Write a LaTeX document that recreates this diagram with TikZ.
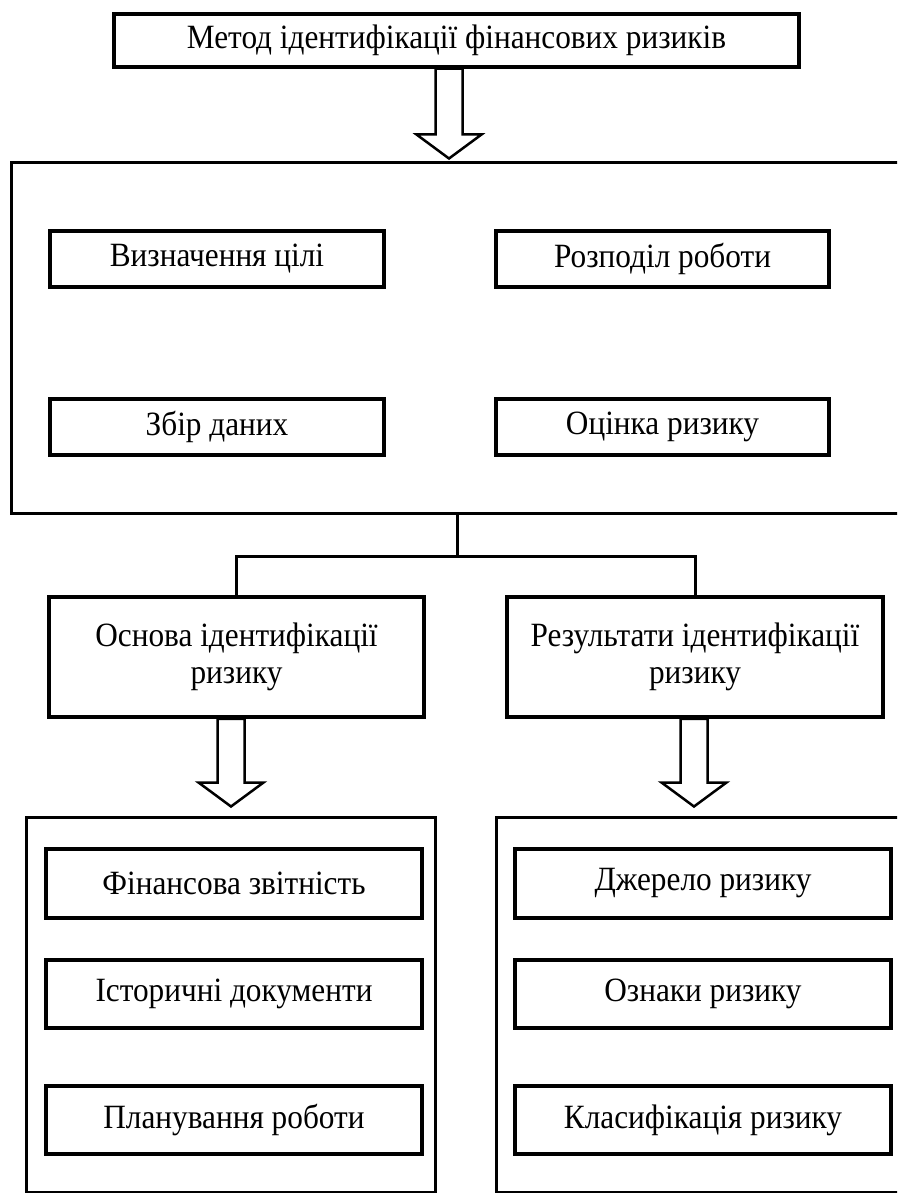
\documentclass[tikz,border=0pt]{standalone}
\usepackage{fontspec}
\setmainfont[FakeStretch=0.92]{Liberation Serif}
\usetikzlibrary{calc}
\newcommand\fs{\fontsize{34}{37}\selectfont}
\newcommand\blkarrow[2]{%
  \draw[blk] let \p1=(#1), \p2=(#2) in
    (\x1-13.5pt,\y1) -- (\x1-13.5pt,\y2+24pt) -- (\x1-32.5pt,\y2+24pt) -- (\x1,\y2)
    -- (\x1+32.5pt,\y2+24pt) -- (\x1+13.5pt,\y2+24pt) -- (\x1+13.5pt,\y1) -- cycle;}
\begin{document}
\begin{tikzpicture}[x=1pt,y=-1pt,
  box/.style={draw, line width=3.5pt, rectangle, inner sep=0pt, align=center, font=\fs},
  frame/.style={draw, line width=3pt, rectangle, inner sep=0pt},
  blk/.style={draw, line width=2.5pt, fill=white, line join=miter},
  conn/.style={draw, line width=3pt}]
\useasboundingbox (0,0) rectangle (897,1193);
\fill[white] (0,0) rectangle (897,1193);
\clip (0,0) rectangle (897,1193);

% top
\node[box, minimum width=685pt, minimum height=53pt] (top) at (456.5,40.5) {Метод ідентифікації фінансових ризиків};

% big frame
\node[frame, minimum width=909pt, minimum height=350pt] (big) at (465.5,338) {};
\node[box, minimum width=334pt, minimum height=56pt] (v1) at (217,259) {Визначення цілі};
\node[box, minimum width=333pt, minimum height=56pt] (v2) at (662.5,259) {Розподіл роботи};
\node[box, minimum width=334pt, minimum height=56pt] (v3) at (217,427) {Збір даних};
\node[box, minimum width=333pt, minimum height=56pt] (v4) at (662.5,427) {Оцінка ризику};

% middle
\node[box, minimum width=375pt, minimum height=120pt] (osn) at (236.5,657) {Основа ідентифікації\\ризику};
\node[box, minimum width=376pt, minimum height=120pt] (res) at (695,657) {Результати ідентифікації\\ризику};

% bottom frames
\node[frame, minimum width=409pt, minimum height=375pt] (cl) at (230.5,1004.5) {};
\node[frame, minimum width=424pt, minimum height=375pt] (cr) at (708,1004.5) {};
\node[box, minimum width=376pt, minimum height=69pt] (l1) at (234,883.5) {Фінансова звітність};
\node[box, minimum width=376pt, minimum height=68pt] (l2) at (234,994) {Історичні документи};
\node[box, minimum width=376pt, minimum height=68pt] (l3) at (234,1120) {Планування роботи};
\node[box, minimum width=376pt, minimum height=69pt] (r1) at (703,883.5) {Джерело ризику};
\node[box, minimum width=376pt, minimum height=68pt] (r2) at (703,994) {Ознаки ризику};
\node[box, minimum width=376pt, minimum height=68pt] (r3) at (703,1120) {Класифікація ризику};

% arrows
\coordinate (a1) at ($(top.south)+(-7.5,0)$);
\coordinate (t1) at ($(a1 |- big.north)+(0,-3)$);
\blkarrow{a1}{t1}
\coordinate (a2) at ($(osn.south)+(-5.5,0)$);
\coordinate (t2) at ($(a2 |- cl.north)+(0,-9)$);
\blkarrow{a2}{t2}
\coordinate (a3) at ($(res.south)+(-1,0)$);
\coordinate (t3) at ($(a3 |- cr.north)+(0,-9)$);
\blkarrow{a3}{t3}

% connector
\coordinate (j) at (457,556);
\draw[conn] (big.south -| j) -- (j);
\draw[conn] (osn.north) |- (j) -| (res.north);
\end{tikzpicture}
\end{document}
